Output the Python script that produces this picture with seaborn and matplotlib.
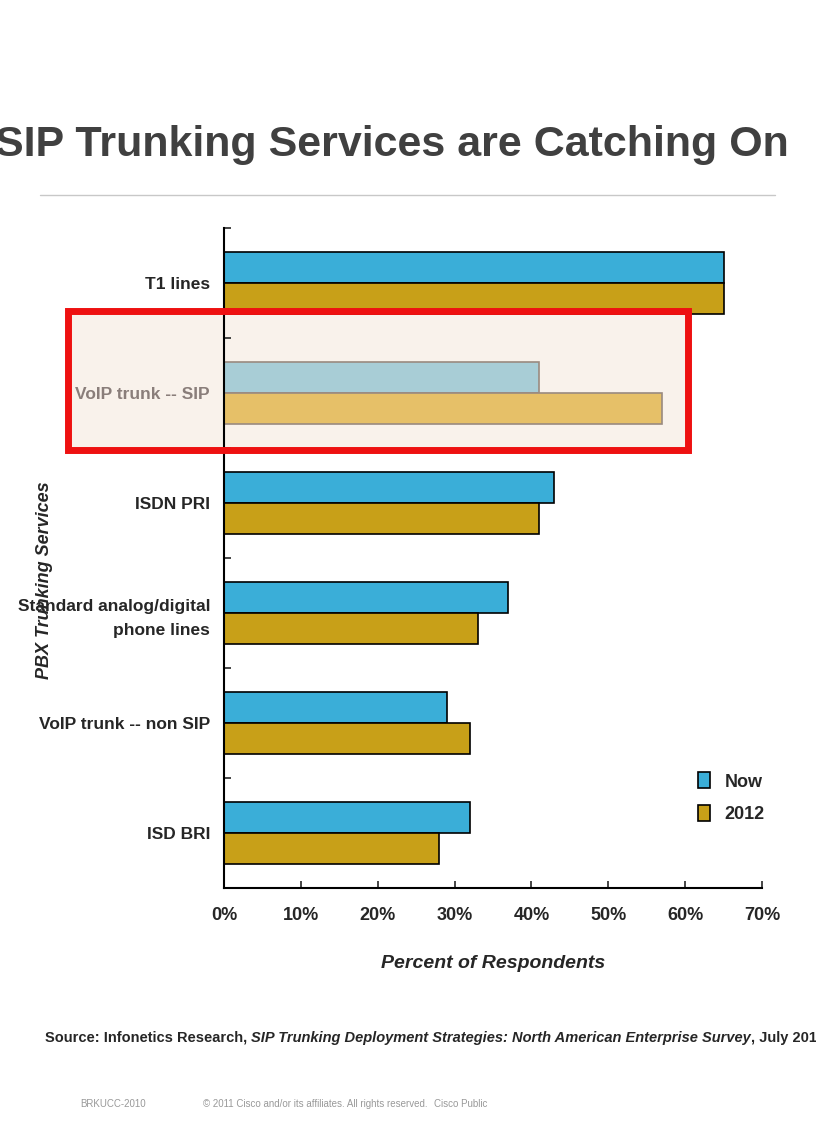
import matplotlib
matplotlib.use("Agg")
import matplotlib.pyplot as plt
import seaborn as sns
import pandas as pd
from matplotlib.patches import Rectangle

categories = ["T1 lines", "VoIP trunk -- SIP", "ISDN PRI", "Standard analog/digital\nphone lines", "VoIP trunk -- non SIP", "ISD BRI"]
now_vals = [65, 41, 43, 37, 29, 32]
y2012_vals = [65, 57, 41, 33, 32, 28]
series = ["Now", "2012"]
xticks = [0, 10, 20, 30, 40, 50, 60, 70]

sns.set_style("white")
plt.rcParams['font.family'] = ['Liberation Sans', 'DejaVu Sans']

df = pd.DataFrame({
    "cat": categories * 2,
    "val": now_vals + y2012_vals,
    "series": [series[0]] * 6 + [series[1]] * 6,
})
c_now, c_2012 = "#3AAED8", "#C8A018"

fig = plt.figure(figsize=(8.16, 11.23), dpi=100)
ax = fig.add_axes([224/816, 1-888/1123, (762-224)/816, (888-228)/1123])
sns.barplot(data=df, y="cat", x="val", hue="series", palette=[c_now, c_2012], saturation=1,
            width=0.56, edgecolor="black", linewidth=1.2, ax=ax, orient="h")

for bar in ax.patches:
    cy = bar.get_y() + bar.get_height() / 2
    if 0.5 < cy < 1.5 and bar.get_width() > 0:
        fc = bar.get_facecolor()
        bar.set_facecolor("#A8CDD6" if fc[2] > 0.5 else "#E6C068")
        bar.set_edgecolor("#9A8A80")

ax.set_xlim(0, 70)
ax.set_ylim(5.5, -0.5)
ax.set_xticks(xticks)
ax.set_xticklabels([f"{v}%" for v in xticks], fontsize=13, fontweight="bold")
ax.set_yticks([i + 0.5 for i in range(-1, 6)], minor=True)
ax.set_yticks(range(6))
ax.set_yticklabels(categories, fontsize=12.5, fontweight="bold", linespacing=1.7)
ax.get_yticklabels()[1].set_color("#8A7E7A")
ax.tick_params(axis="y", which="major", length=0, pad=10)
ax.tick_params(axis="y", which="minor", length=5, width=1.2, direction="in", left=True)
ax.tick_params(axis="x", length=5, width=1.2, direction="in", pad=14, bottom=True)
for s in ["top", "right"]:
    ax.spines[s].set_visible(False)
for s in ["left", "bottom"]:
    ax.spines[s].set_color("black")
    ax.spines[s].set_linewidth(1.5)
ax.set_xlabel("Percent of Respondents", fontsize=14, fontweight="bold", style="italic", labelpad=22)
ax.set_ylabel("")
ax.legend(loc="upper left", bbox_to_anchor=(0.85, 0.2), frameon=False,
          handlelength=0.7, handleheight=1.0, labelspacing=0.8, prop={"weight": "bold", "size": 13})

fig.patches.append(Rectangle((68/816, 1-450/1123), 620/816, 139/1123, transform=fig.transFigure,
                             facecolor="#F5E6D8", alpha=0.5, edgecolor="none", zorder=0))
fig.patches.append(Rectangle((68/816, 1-450/1123), 620/816, 139/1123, transform=fig.transFigure,
                             facecolor="none", edgecolor="#EE1111", linewidth=5, zorder=10))
ax.set_zorder(1)
ax.patch.set_alpha(0)

fig.text(392/816, 1-145/1123, "SIP Trunking Services are Catching On", ha="center", va="center",
         fontsize=31, fontweight="bold", color="#404040")
fig.add_artist(plt.Line2D([40/816, 775/816], [1-195/1123]*2, color="#C8C8C8", lw=1))
fig.text(45/816, 1-580/1123, "PBX Trunking Services", rotation=90, ha="center", va="center",
         fontsize=13, fontweight="bold", style="italic")

# source line, pieces placed one after another
fig.canvas.draw()
r = fig.canvas.get_renderer()
x = 45
for txt, st in [("Source: Infonetics Research, ", "normal"),
                ("SIP Trunking Deployment Strategies: North American Enterprise Survey", "italic"),
                (", July 2010", "normal")]:
    t = fig.text(x/816, 1-1038/1123, txt, fontsize=10.5, fontweight="bold", style=st, va="center")
    x += t.get_window_extent(r).width
fig.text(80/816, 1-1104/1123, "BRKUCC-2010", fontsize=7, color="#999999", va="center")
fig.text(203/816, 1-1104/1123, "© 2011 Cisco and/or its affiliates. All rights reserved.", fontsize=7, color="#999999", va="center")
fig.text(434/816, 1-1104/1123, "Cisco Public", fontsize=7, color="#999999", va="center")

fig.savefig("out.png", dpi=100)
